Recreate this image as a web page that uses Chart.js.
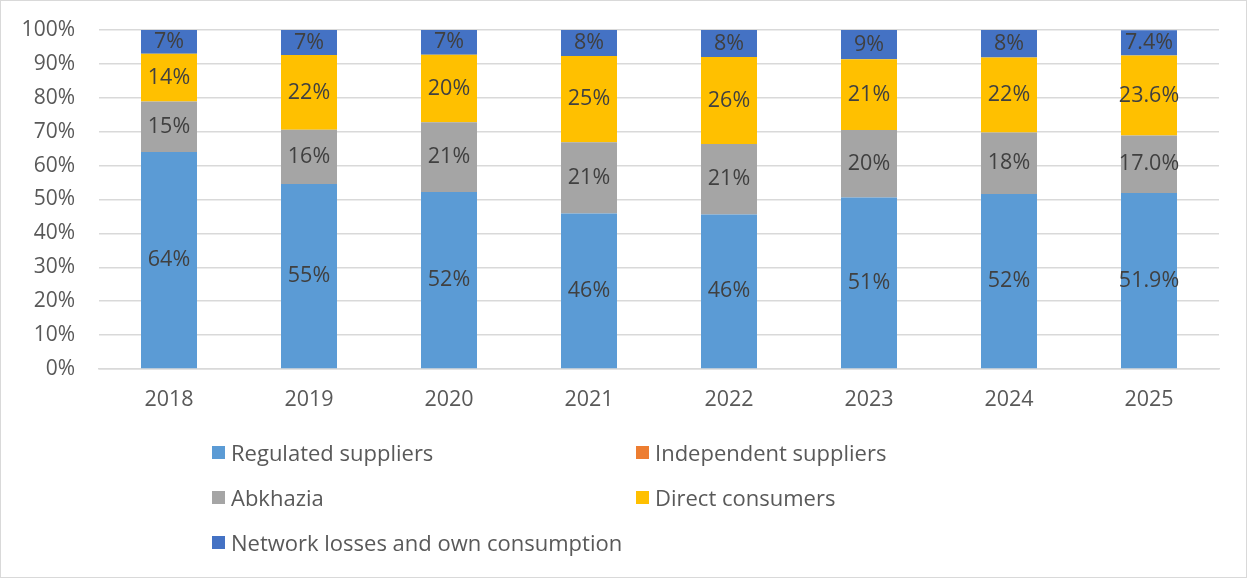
<!DOCTYPE html>
<html>
<head>
<meta charset="utf-8">
<script src="https://cdn.jsdelivr.net/npm/chart.js@4.4.1/dist/chart.umd.min.js"></script>
<style>
  html, body { margin: 0; padding: 0; background: #fff; }
  #wrap {
    position: relative;
    width: 1247px;
    height: 578px;
    box-sizing: border-box;
    border: 1px solid #d9d9d9;
    font-family: "Open Sans", "Liberation Sans", sans-serif;
  }
  #chart { position: absolute; left: 0; top: 0; }
  #legend {
    position: absolute;
    left: 211px;
    top: 436px;
    display: grid;
    grid-template-columns: 424px 400px;
    grid-auto-rows: 45px;
    font-size: 22px;
    color: #595959;
  }
  #legend div { display: flex; align-items: center; height: 30px; }
  #legend span.box { width: 13px; height: 13px; margin-right: 6px; display: inline-block; }
</style>
</head>
<body>
<div id="wrap">
  <canvas id="chart" width="1245" height="576"></canvas>
  <div id="legend"></div>
</div>
<script>
const years = ['2018', '2019', '2020', '2021', '2022', '2023', '2024', '2025'];

// shares in percent
const regulated   = [64.0, 54.6, 52.2, 45.9, 45.6, 50.6, 51.6, 51.9];
const independent = [0, 0, 0, 0, 0, 0, 0, 0];
const abkhazia    = [14.9, 16.0, 20.6, 21.0, 20.8, 19.9, 18.2, 17.0];
const direct      = [14.1, 22.0, 19.9, 25.4, 25.6, 20.9, 22.1, 23.6];
const losses      = [7.0, 7.4, 7.3, 7.7, 8.0, 8.6, 8.1, 7.4];

const yTicks = [0, 10, 20, 30, 40, 50, 60, 70, 80, 90, 100];

const series = [
  { label: 'Regulated suppliers', data: regulated, color: '#5B9BD5' },
  { label: 'Independent suppliers', data: independent, color: '#ED7D31' },
  { label: 'Abkhazia', data: abkhazia, color: '#A5A5A5' },
  { label: 'Direct consumers', data: direct, color: '#FFC000' },
  { label: 'Network losses and own consumption', data: losses, color: '#4472C4' }
];

const FONT = '"Open Sans", "Liberation Sans", sans-serif';

// last year is labelled with one decimal
function fmt(v, i) {
  return i === years.length - 1 ? v.toFixed(1) + '%' : v.toFixed(0) + '%';
}

const segmentLabels = {
  id: 'segmentLabels',
  afterDatasetsDraw(chart) {
    const ctx = chart.ctx;
    ctx.save();
    ctx.font = '21.5px ' + FONT;
    ctx.fillStyle = '#404040';
    ctx.textAlign = 'center';
    ctx.textBaseline = 'middle';
    chart.data.datasets.forEach((ds, di) => {
      const meta = chart.getDatasetMeta(di);
      meta.data.forEach((bar, i) => {
        const v = ds.data[i];
        if (!v) return;
        const mid = (bar.y + bar.base) / 2;
        ctx.fillText(fmt(v, i), bar.x, mid);
      });
    });
    ctx.restore();
  }
};

const ctx = document.getElementById('chart').getContext('2d');
const chart = new Chart(ctx, {
  type: 'bar',
  data: {
    labels: years,
    datasets: series.map(s => ({
      label: s.label,
      data: s.data,
      backgroundColor: s.color,
      borderWidth: 0,
      barPercentage: 1,
      categoryPercentage: 0.4
    }))
  },
  options: {
    responsive: false,
    animation: false,
    layout: { padding: { left: 0, right: 27, top: 29, bottom: 158 } },
    plugins: {
      legend: { display: false },
      tooltip: { enabled: false }
    },
    scales: {
      x: {
        stacked: true,
        grid: { display: false, drawTicks: false },
        border: { color: '#d9d9d9', width: 1.5 },
        ticks: { color: '#595959', font: { family: FONT, size: 21.5 }, padding: 18 },
        afterFit: s => { s.height = 50; s.paddingLeft = 0; s.paddingRight = 0; }
      },
      y: {
        stacked: true,
        min: 0,
        max: 100,
        afterBuildTicks: s => { s.ticks = yTicks.map(v => ({ value: v })); },
        grid: { color: '#d9d9d9', lineWidth: 1.5, drawTicks: false },
        border: { display: false },
        ticks: {
          color: '#595959',
          font: { family: FONT, size: 21 },
          padding: 24,
          callback: v => v + '%'
        },
        // fixed width, and no extra room for the top tick label
        afterFit: s => { s.width = 98; s.paddingTop = 0; s.paddingBottom = 0; }
      }
    }
  },
  plugins: [segmentLabels]
});

// two-column legend below the plot
const legendEl = document.getElementById('legend');
chart.data.datasets.forEach(ds => {
  const item = document.createElement('div');
  item.innerHTML = `<span class="box" style="background:${ds.backgroundColor}"></span>${ds.label}`;
  legendEl.appendChild(item);
});
</script>
</body>
</html>
